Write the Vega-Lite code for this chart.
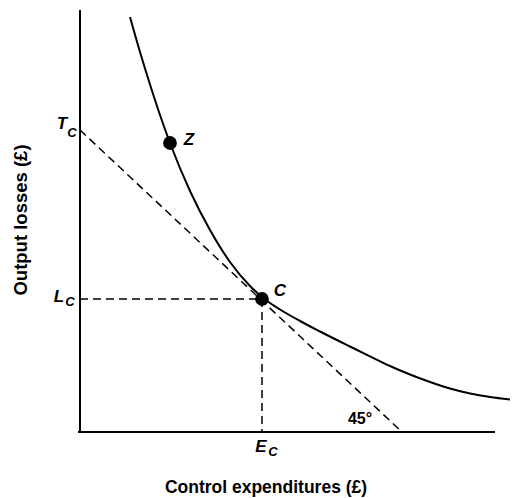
{
  "$schema": "https://vega.github.io/schema/vega-lite/v6.json",
  "width": 434,
  "height": 432,
  "autosize": "none",
  "padding": {"left": 80, "top": 0, "right": 0, "bottom": 66},
  "background": "white",
  "config": {"view": {"stroke": null}, "font": "Liberation Sans"},
  "datasets": {
    "curve": [
      {"u": 50, "v": 415}, {"u": 60, "v": 380}, {"u": 70, "v": 347.5}, {"u": 80, "v": 317},
      {"u": 90, "v": 289}, {"u": 110, "v": 241}, {"u": 130, "v": 202}, {"u": 150, "v": 170},
      {"u": 170, "v": 146}, {"u": 182, "v": 135}, {"u": 190, "v": 129}, {"u": 200, "v": 122.5},
      {"u": 220, "v": 111}, {"u": 240, "v": 100.5}, {"u": 270, "v": 85.5}, {"u": 290, "v": 75.7},
      {"u": 310, "v": 66}, {"u": 330, "v": 57.5}, {"u": 350, "v": 50}, {"u": 370, "v": 43.5},
      {"u": 390, "v": 38.5}, {"u": 410, "v": 35}, {"u": 430, "v": 32.5}
    ],
    "axes": [
      {"u": 0, "v": 0, "u2": 0, "v2": 422},
      {"u": -2, "v": 0, "u2": 415, "v2": 0}
    ],
    "dashed": [
      {"u": 0, "v": 302, "u2": 322, "v2": 0},
      {"u": 0, "v": 133, "u2": 182, "v2": 133},
      {"u": 182, "v": 133, "u2": 182, "v2": 0}
    ],
    "points": [
      {"u": 90, "v": 289, "name": "Z"},
      {"u": 182, "v": 133, "name": "C"}
    ],
    "letters": [
      {"u": -18, "v": 308, "t": "T"},
      {"u": -21, "v": 135, "t": "L"},
      {"u": 181, "v": -15, "t": "E"},
      {"u": 109, "v": 292, "t": "Z"},
      {"u": 200, "v": 141, "t": "C"}
    ],
    "subs": [
      {"u": -8, "v": 299, "t": "C"},
      {"u": -10, "v": 130, "t": "C"},
      {"u": 193, "v": -20, "t": "C"}
    ],
    "deg": [{"u": 280, "v": 13, "t": "45°"}],
    "xtitle": [{"u": 186, "v": -56, "t": "Control expenditures (£)"}],
    "ytitle": [{"u": -59, "v": 212, "t": "Output losses (£)"}]
  },
  "encoding": {
    "x": {"field": "u", "type": "quantitative", "scale": {"domain": [0, 434], "nice": false, "zero": false}, "axis": null},
    "y": {"field": "v", "type": "quantitative", "scale": {"domain": [0, 432], "nice": false, "zero": false}, "axis": null}
  },
  "layer": [
    {"data": {"name": "axes"}, "mark": {"type": "rule", "color": "black", "strokeWidth": 2, "clip": false},
     "encoding": {"x2": {"field": "u2"}, "y2": {"field": "v2"}}},
    {"data": {"name": "dashed"}, "mark": {"type": "rule", "color": "black", "strokeWidth": 1.5, "strokeDash": [8, 5], "clip": false},
     "encoding": {"x2": {"field": "u2"}, "y2": {"field": "v2"}}},
    {"data": {"name": "curve"}, "mark": {"type": "line", "color": "black", "strokeWidth": 2, "interpolate": "monotone", "clip": false},
     "encoding": {"order": {"field": "u", "type": "quantitative"}}},
    {"data": {"name": "points"}, "mark": {"type": "circle", "color": "black", "opacity": 1, "size": 190, "clip": false},
     "encoding": {}},
    {"data": {"name": "letters"}, "mark": {"type": "text", "fontSize": 17, "fontStyle": "italic", "fontWeight": "bold", "align": "center", "baseline": "middle", "color": "black", "clip": false},
     "encoding": {"text": {"field": "t"}}},
    {"data": {"name": "subs"}, "mark": {"type": "text", "fontSize": 13, "fontStyle": "italic", "fontWeight": "bold", "align": "center", "baseline": "middle", "color": "black", "clip": false},
     "encoding": {"text": {"field": "t"}}},
    {"data": {"name": "deg"}, "mark": {"type": "text", "fontSize": 16, "fontWeight": "bold", "align": "center", "baseline": "middle", "color": "black", "clip": false},
     "encoding": {"text": {"field": "t"}}},
    {"data": {"name": "xtitle"}, "mark": {"type": "text", "fontSize": 17.5, "fontWeight": "bold", "align": "center", "baseline": "middle", "color": "black", "clip": false},
     "encoding": {"text": {"field": "t"}}},
    {"data": {"name": "ytitle"}, "mark": {"type": "text", "fontSize": 18.5, "fontWeight": "bold", "angle": 270, "align": "center", "baseline": "middle", "color": "black", "clip": false},
     "encoding": {"text": {"field": "t"}}}
  ]
}
